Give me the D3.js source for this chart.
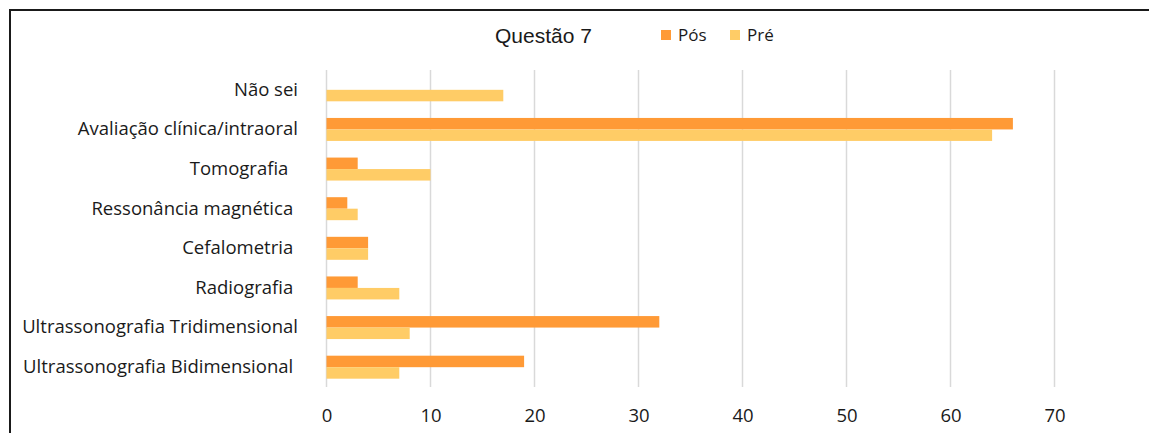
<!DOCTYPE html>
<html>
<head>
<meta charset="utf-8">
<script src="https://cdn.jsdelivr.net/npm/d3@7"></script>
<style>
  html, body { margin: 0; padding: 0; background: #fff; }
  svg { display: block; }
  text { white-space: pre; }
</style>
</head>
<body>
<svg id="chart" width="1149" height="433"></svg>
<script>
const title = "Questão 7";
const categories = [
  "Não sei",
  "Avaliação clínica/intraoral",
  "Tomografia  ",
  "Ressonância magnética ",
  "Cefalometria ",
  "Radiografia ",
  "Ultrassonografia Tridimensional",
  "Ultrassonografia Bidimensional "
];
const seriesNames = ["Pós", "Pré"];
const posValues = [0, 66, 3, 2, 4, 3, 32, 19];
const preValues = [17, 64, 10, 3, 4, 7, 8, 7];
const xTicks = [0, 10, 20, 30, 40, 50, 60, 70];
const colors = ["#FF9A36", "#FFCC66"];

(function () {
const svg = d3.select("#chart");
const W = 1149, H = 433;
const pLeft = 326.5, pRight = 1054.5, pTop = 70, pBottom = 387;
const labelFont = "'Open Sans', Lato, sans-serif";

// frame
svg.append("path")
  .attr("d", `M10,${H} L10,10 L${W},10`)
  .attr("fill", "none").attr("stroke", "#1a1a1a").attr("stroke-width", 2);

const x = d3.scaleLinear().domain([0, 70]).range([pLeft, pRight]);
const y0 = d3.scaleBand().domain(categories).range([pTop, pBottom]).paddingInner(0.42).paddingOuter(0.21);
const y1 = d3.scaleBand().domain(seriesNames).range([0, y0.bandwidth()]);

// gridlines
svg.append("g").selectAll("line").data(xTicks).join("line")
  .attr("x1", d => x(d)).attr("x2", d => x(d))
  .attr("y1", pTop).attr("y2", pBottom)
  .attr("stroke", "#d9d9d9").attr("stroke-width", 1.5);

const rows = categories.map((c, i) => ({ cat: c, vals: [posValues[i], preValues[i]] }));

const g = svg.append("g");
rows.forEach(r => {
  r.vals.forEach((v, j) => {
    if (v <= 0) return;
    g.append("rect")
      .attr("x", x(0))
      .attr("y", y0(r.cat) + y1(seriesNames[j]))
      .attr("width", x(v) - x(0))
      .attr("height", y1.bandwidth())
      .attr("fill", colors[j]);
  });
});

// category labels
const yAxis = d3.axisLeft(y0).tickSize(0).tickPadding(0);
const ya = svg.append("g").attr("transform", `translate(298,0)`).call(yAxis);
ya.select(".domain").remove();
ya.selectAll("text")
  .attr("font-family", labelFont)
  .attr("font-size", 18.5)
  .attr("fill", "#1a1a1a");

// x axis labels
const xAxis = d3.axisBottom(x).tickValues(xTicks).tickSize(0).tickPadding(0);
const xa = svg.append("g").attr("transform", `translate(0,409)`).call(xAxis);
xa.select(".domain").remove();
xa.selectAll("text")
  .attr("font-family", labelFont)
  .attr("font-size", 18.5)
  .attr("fill", "#1a1a1a");

// title
svg.append("text")
  .attr("x", 495).attr("y", 43)
  .attr("font-family", "'Liberation Sans', Arial, sans-serif")
  .attr("font-size", 21)
  .attr("fill", "#1a1a1a")
  .text(title);

// legend
const legendX = [661, 730];
seriesNames.forEach((s, j) => {
  svg.append("rect")
    .attr("x", legendX[j]).attr("y", 30).attr("width", 10).attr("height", 10)
    .attr("fill", colors[j]);
  svg.append("text")
    .attr("x", legendX[j] + 17).attr("y", 41)
    .attr("font-family", labelFont)
    .attr("font-size", 17)
    .attr("fill", "#1a1a1a")
    .text(s);
});
})();
</script>
</body>
</html>
